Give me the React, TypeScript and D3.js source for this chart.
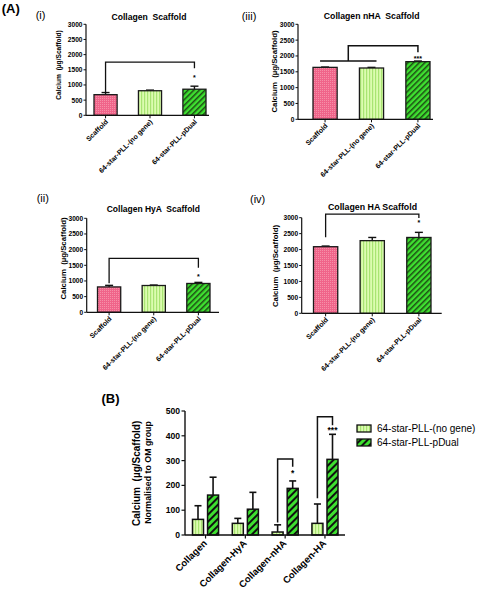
import React from "react";
import * as d3 from "d3";

// ---------- DATA ----------
const categoriesA = ["Scaffold", "64-star-PLL-(no gene)", "64-star-PLL-pDual"];
const panelTitles = ["Collagen  Scaffold", "Collagen HyA  Scaffold", "Collagen nHA  Scaffold", "Collagen HA Scaffold"];
const panelTags = ["(i)", "(ii)", "(iii)", "(iv)"];
const ticksA = [0, 500, 1000, 1500, 2000, 2500, 3000];

const collagenMean = [680, 810, 860];
const collagenErr = [70, 20, 100];
const hyaMean = [810, 855, 920];
const hyaErr = [50, 15, 35];
const nhaMean = [1640, 1620, 1820];
const nhaErr = [10, 20, 20];
const haMean = [2090, 2280, 2380];
const haErr = [20, 100, 160];

// significance brackets (data units)
const bracketCollagen = { top: 1750, leftBottom: 760, rightBottom: 1550, label: "*", labelAt: 1250 };
const bracketHyA = { top: 1723, leftBottom: 930, rightBottom: 1420, label: "*", labelAt: 1160 };
const bracketNHA = { base: 1840, top: 2320, rightBottom: 2116, label: "***", labelAt: 1950 };
const bracketHA = { top: 3110, leftBottom: 2385, rightBottom: 2990, label: "*", labelAt: 2850 };

const groupsB = ["Collagen", "Collagen-HyA", "Collagen-nHA", "Collagen-HA"];
const seriesB = ["64-star-PLL-(no gene)", "64-star-PLL-pDual"];
const noGeneB = [63, 47, 12, 47];
const noGeneErrB = [55, 20, 29, 78];
const pDualB = [161, 104, 188, 305];
const pDualErrB = [72, 68, 30, 101];
const ticksB = [0, 100, 200, 300, 400, 500];
const bracketsB = [
  { group: 2, top: 306, leftBottom: 50, rightBottom: 275, label: "*", labelAt: 255 },
  { group: 3, top: 477, leftBottom: 148, rightBottom: 443, label: "***", labelAt: 427 },
];

// ---------- LAYOUT ----------
const FONT = "Arial, 'Liberation Sans', sans-serif";
const fills = ["url(#pinkDots)", "url(#vLines)", "url(#diagA)"];
const pre = { whiteSpace: "pre" as const };

const panels = [
  { title: panelTitles[0], tag: panelTags[0], mean: collagenMean, err: collagenErr, bracket: bracketCollagen,
    yAxisX: 86, axisEnd: 209, barL: 94, barR: 206, y0: 115.3, yTop: 24.3,
    yl: [58, 65, 6.6], ti: [149, 20, 8.6], tg: [35.7, 19] },
  { title: panelTitles[1], tag: panelTags[1], mean: hyaMean, err: hyaErr, bracket: bracketHyA,
    yAxisX: 86.7, axisEnd: 219, barL: 97.5, barR: 210, y0: 312.3, yTop: 218.3,
    yl: [63.5, 258.5, 7.8], ti: [153.3, 212, 8.5], tg: [36.7, 202] },
  { title: panelTitles[2], tag: panelTags[2], mean: nhaMean, err: nhaErr, bracket: null,
    yAxisX: 298, axisEnd: 433, barL: 313, barR: 430, y0: 119.3, yTop: 24.3,
    yl: [274, 71.5, 7.8], ti: [371.7, 19, 8.7], tg: [241.7, 19.5] },
  { title: panelTitles[3], tag: panelTags[3], mean: haMean, err: haErr, bracket: bracketHA,
    yAxisX: 301.7, axisEnd: 441.7, barL: 313.5, barR: 431, y0: 313.3, yTop: 217.7,
    yl: [275.5, 266, 7.8], ti: [372.5, 210, 8.8], tg: [250, 203] },
];

function PanelA({ p, idx }: any) {
  const x = d3.scaleBand<string>().domain(categoriesA).range([p.barL, p.barR]).paddingInner(0.48).paddingOuter(0);
  const y = d3.scaleLinear().domain([0, 3000]).range([p.y0, p.yTop]);
  const bw = x.bandwidth();
  const cx = (c: string) => (x(c) as number) + bw / 2;
  const cap = 4;
  const b = p.bracket;
  return (
    <g>
      <text x={p.tg[0]} y={p.tg[1]} fontSize={11} fontFamily={FONT}>{p.tag}</text>
      <text x={p.ti[0]} y={p.ti[1]} fontSize={p.ti[2]} fontWeight="bold" fontFamily={FONT} textAnchor="middle" style={pre}>{p.title}</text>
      <text transform={`translate(${p.yl[0]},${p.yl[1]}) rotate(-90)`} fontSize={p.yl[2]} fontWeight="bold" fontFamily={FONT}
        textAnchor="middle" dominantBaseline="central" style={pre}>Calcium  (µg/Scaffold)</text>
      {/* bars */}
      {categoriesA.map((c, i) => (
        <g key={c}>
          <line x1={cx(c)} x2={cx(c)} y1={y(p.mean[i])} y2={y(p.mean[i] + p.err[i])} stroke="#111" strokeWidth={1.4} />
          <line x1={cx(c) - cap} x2={cx(c) + cap} y1={y(p.mean[i] + p.err[i])} y2={y(p.mean[i] + p.err[i])} stroke="#111" strokeWidth={1.4} />
          <rect x={x(c)} y={y(p.mean[i])} width={bw} height={p.y0 - y(p.mean[i])} fill={fills[i]} stroke="#1a1a1a" strokeWidth={1.3} />
        </g>
      ))}
      {/* axes */}
      <line x1={p.yAxisX} x2={p.yAxisX} y1={y(3000)} y2={p.y0} stroke="#111" strokeWidth={1.2} />
      <line x1={p.yAxisX} x2={p.axisEnd} y1={p.y0} y2={p.y0} stroke="#111" strokeWidth={1.2} />
      {ticksA.map((t) => (
        <g key={t}>
          <line x1={p.yAxisX - 2.5} x2={p.yAxisX} y1={y(t)} y2={y(t)} stroke="#111" strokeWidth={1} />
          <text x={p.yAxisX - 3.5} y={y(t)} fontSize={6.6} fontWeight="bold" fontFamily={FONT} textAnchor="end" dominantBaseline="central">{t}</text>
        </g>
      ))}
      {categoriesA.map((c) => (
        <g key={c}>
          <line x1={cx(c)} x2={cx(c)} y1={p.y0} y2={p.y0 + 3} stroke="#111" strokeWidth={1} />
          <text transform={`translate(${cx(c) + 3},${p.y0 + 7}) rotate(-45)`} fontSize={7} fontWeight="bold" fontFamily={FONT} textAnchor="end">{c}</text>
        </g>
      ))}
      {/* significance */}
      {b && (
        <g>
          <path d={`M${cx(categoriesA[0])},${y(b.leftBottom)}V${y(b.top)}H${cx(categoriesA[2])}V${y(b.rightBottom)}`} fill="none" stroke="#111" strokeWidth={1.3} />
          <text x={cx(categoriesA[2])} y={y(b.labelAt) + 3} fontSize={7} fontWeight="bold" fontFamily={FONT} textAnchor="middle">{b.label}</text>
        </g>
      )}
      {idx === 2 && (() => {
        const nb = bracketNHA;
        const l = cx(categoriesA[0]) - 5, r = cx(categoriesA[1]) + 5, m = (l + r) / 2;
        return (
          <g>
            <line x1={l} x2={r} y1={y(nb.base)} y2={y(nb.base)} stroke="#111" strokeWidth={1.5} />
            <path d={`M${m},${y(nb.base)}V${y(nb.top)}H${cx(categoriesA[2])}V${y(nb.rightBottom)}`} fill="none" stroke="#111" strokeWidth={1.5} />
            <text x={cx(categoriesA[2])} y={y(nb.labelAt) + 3} fontSize={7} fontWeight="bold" fontFamily={FONT} textAnchor="middle">{nb.label}</text>
          </g>
        );
      })()}
    </g>
  );
}

function PanelB() {
  const yAxisX = 185, axisEnd = 345, y0 = 535, yTop = 411;
  const x0 = d3.scaleBand<string>().domain(groupsB).range([192.5, 338]).paddingInner(0.345).paddingOuter(0);
  const x1 = d3.scaleBand<string>().domain(seriesB).range([0, x0.bandwidth()]).paddingInner(0.27).paddingOuter(0);
  const y = d3.scaleLinear().domain([0, 500]).range([y0, yTop]);
  const bw = x1.bandwidth();
  const values = [noGeneB, pDualB];
  const errs = [noGeneErrB, pDualErrB];
  const bFills = ["url(#vLines)", "url(#diagB)"];
  const bx = (g: string, s: string) => (x0(g) as number) + (x1(s) as number);
  const bc = (g: string, s: string) => bx(g, s) + bw / 2;
  const cap = 3.5;
  return (
    <g>
      <text x={101.5} y={403} fontSize={13} fontWeight="bold" fontFamily={FONT}>(B)</text>
      <text transform={`translate(136.5,473.3) rotate(-90)`} fontSize={10} fontWeight="bold" fontFamily={FONT} textAnchor="middle" dominantBaseline="central" style={pre}>Calcium  (µg/Scaffold)</text>
      <text transform={`translate(147.5,472.5) rotate(-90)`} fontSize={8.8} fontWeight="bold" fontFamily={FONT} textAnchor="middle" dominantBaseline="central">Normalised to OM group</text>
      {groupsB.map((g, gi) => (
        <g key={g}>
          {seriesB.map((s, si) => {
            const v = values[si][gi], e = errs[si][gi];
            return (
              <g key={s}>
                <line x1={bc(g, s)} x2={bc(g, s)} y1={y(v)} y2={y(v + e)} stroke="#111" strokeWidth={1.6} />
                <line x1={bc(g, s) - cap} x2={bc(g, s) + cap} y1={y(v + e)} y2={y(v + e)} stroke="#111" strokeWidth={1.6} />
                <rect x={bx(g, s)} y={y(v)} width={bw} height={y0 - y(v)} fill={bFills[si]} stroke="#111" strokeWidth={1.5} />
              </g>
            );
          })}
        </g>
      ))}
      <line x1={yAxisX} x2={yAxisX} y1={yTop} y2={y0} stroke="#111" strokeWidth={1.4} />
      <line x1={yAxisX} x2={axisEnd} y1={y0} y2={y0} stroke="#111" strokeWidth={1.4} />
      {ticksB.map((t) => (
        <g key={t}>
          <line x1={yAxisX - 3.5} x2={yAxisX} y1={y(t)} y2={y(t)} stroke="#111" strokeWidth={1.2} />
          <text x={yAxisX - 5} y={y(t)} fontSize={8.6} fontWeight="bold" fontFamily={FONT} textAnchor="end" dominantBaseline="central">{t}</text>
        </g>
      ))}
      {groupsB.map((g) => {
        const c = (x0(g) as number) + x0.bandwidth() / 2;
        return (
          <g key={g}>
            <line x1={c} x2={c} y1={y0} y2={y0 + 3.5} stroke="#111" strokeWidth={1.2} />
            <text transform={`translate(${c + 2},${y0 + 9}) rotate(-45)`} fontSize={9.5} fontWeight="bold" fontFamily={FONT} textAnchor="end">{g}</text>
          </g>
        );
      })}
      {bracketsB.map((b) => {
        const g = groupsB[b.group];
        const l = bc(g, seriesB[0]), r = bc(g, seriesB[1]);
        return (
          <g key={g}>
            <path d={`M${l},${y(b.leftBottom)}V${y(b.top)}H${r}V${y(b.rightBottom)}`} fill="none" stroke="#111" strokeWidth={1.5} />
            <text x={r} y={y(b.labelAt) + 4} fontSize={8.5} fontWeight="bold" fontFamily={FONT} textAnchor="middle">{b.label}</text>
          </g>
        );
      })}
      {/* legend */}
      {seriesB.map((s, i) => (
        <g key={s}>
          <rect x={357} y={425 + i * 14} width={14} height={7} fill={bFills[i]} stroke="#111" strokeWidth={1.3} />
          <text x={377} y={428.8 + i * 14} fontSize={10} fontFamily={FONT} dominantBaseline="central">{s}</text>
        </g>
      ))}
    </g>
  );
}

export default function App() {
  return (
    <svg width={480} height={591} style={{ position: "absolute", left: 0, top: 0, background: "#fff" }}>
      <defs>
        <pattern id="pinkDots" width="2" height="2" patternUnits="userSpaceOnUse">
          <rect width="2" height="2" fill="#f0648a" />
          <rect width="1" height="1" fill="#f590a8" />
        </pattern>
        <pattern id="vLines" width="3" height="3" patternUnits="userSpaceOnUse">
          <rect width="3" height="3" fill="#dcfcb0" />
          <rect width="1.2" height="3" fill="#a8e472" />
        </pattern>
        <pattern id="diagA" width="4" height="4" patternUnits="userSpaceOnUse" patternTransform="rotate(45)">
          <rect width="4" height="4" fill="#3ee030" />
          <rect width="1.5" height="4" fill="#1d4a14" />
        </pattern>
        <pattern id="diagB" width="5" height="5" patternUnits="userSpaceOnUse" patternTransform="rotate(45)">
          <rect width="5" height="5" fill="#3ee030" />
          <rect width="2" height="5" fill="#111" />
        </pattern>
      </defs>
      <rect width={480} height={591} fill="#fff" />
      <text x={1.7} y={12.7} fontSize={13} fontWeight="bold" fontFamily={FONT}>(A)</text>
      {panels.map((p, i) => (
        <PanelA key={i} p={p} idx={i} />
      ))}
      <PanelB />
    </svg>
  );
}
